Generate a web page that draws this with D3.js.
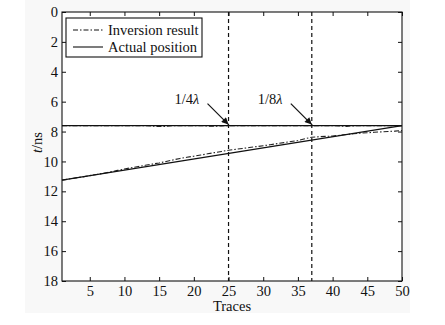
<!DOCTYPE html>
<html>
<head>
<meta charset="utf-8">
<script src="https://cdn.jsdelivr.net/npm/d3@7/dist/d3.min.js"></script>
<style>
  html, body { margin: 0; padding: 0; background: #fff; }
  svg text { font-family: "Liberation Serif", "Times New Roman", serif; fill: #111; }
</style>
</head>
<body>
<svg id="chart" width="445" height="325"></svg>
<script>
// Trace axis and time axis tick values
const xTicks = [5, 10, 15, 20, 25, 30, 35, 40, 45, 50];
const yTicks = [0, 2, 4, 6, 8, 10, 12, 14, 16, 18];

// Actual interface positions (two layers)
const actualFlatTraces = [1, 50];
const actualFlatT = [7.6, 7.6];
const actualDipTraces = [1, 50];
const actualDipT = [11.25, 7.6];

// Inverted positions for every trace
const traces = d3.range(1, 51);
const inversionFlatT = [
  7.6, 7.6, 7.6, 7.6, 7.6, 7.6, 7.6, 7.6, 7.6, 7.6,
  7.6, 7.6, 7.6, 7.64, 7.66, 7.65, 7.6, 7.6, 7.6, 7.6,
  7.6, 7.63, 7.65, 7.62, 7.6, 7.6, 7.6, 7.6, 7.6, 7.6,
  7.6, 7.6, 7.6, 7.6, 7.6, 7.6, 7.6, 7.6, 7.6, 7.6,
  7.63, 7.65, 7.62, 7.6, 7.6, 7.6, 7.6, 7.6, 7.6, 7.6
];
const inversionDipT = [
  11.25, 11.18, 11.1, 11.03, 10.95, 10.87, 10.79, 10.7, 10.6, 10.5,
  10.42, 10.34, 10.26, 10.18, 10.1, 10.0, 9.9, 9.8, 9.72, 9.65,
  9.57, 9.49, 9.41, 9.33, 9.25, 9.19, 9.13, 9.07, 9.01, 8.95,
  8.88, 8.81, 8.74, 8.67, 8.6, 8.48, 8.38, 8.35, 8.32, 8.3,
  8.25, 8.2, 8.15, 8.11, 8.08, 8.05, 8.02, 8.0, 7.97, 7.93
];

// Marked traces with their wavelength labels
const markTraces = [25, 37];
const markLabels = ["1/4", "1/8"];

const legendLabels = ["Inversion result", "Actual position"];

const svg = d3.select("#chart");
const m = { left: 62, right: 43, top: 12, bottom: 44 };
const W = 445, H = 325;
const pw = W - m.left - m.right, ph = H - m.top - m.bottom;

const x = d3.scaleLinear().domain([1, 50]).range([m.left, m.left + pw]);
const y = d3.scaleLinear().domain([0, 18]).range([m.top, m.top + ph]);

// Figure background
svg.append("rect").attr("x", 25).attr("y", 0).attr("width", 385).attr("height", 313)
  .attr("fill", "#f8f8f8");
svg.append("rect").attr("x", m.left).attr("y", m.top).attr("width", pw).attr("height", ph)
  .attr("fill", "#fff");

const g = svg.append("g");

// Axes with inward ticks on all four sides
const tickLen = 4;
const fontSize = 14.5;
g.append("g").attr("transform", `translate(0,${m.top + ph})`)
  .call(d3.axisBottom(x).tickValues(xTicks).tickSizeInner(-tickLen).tickSizeOuter(0).tickPadding(5))
  .call(a => a.selectAll("text").style("font-size", fontSize + "px"));
g.append("g").attr("transform", `translate(0,${m.top})`)
  .call(d3.axisTop(x).tickValues(xTicks).tickSizeInner(-tickLen).tickSizeOuter(0).tickFormat(""));
g.append("g").attr("transform", `translate(${m.left},0)`)
  .call(d3.axisLeft(y).tickValues(yTicks).tickSizeInner(-tickLen).tickSizeOuter(0).tickPadding(4))
  .call(a => a.selectAll("text").style("font-size", fontSize + "px"));
g.append("g").attr("transform", `translate(${m.left + pw},0)`)
  .call(d3.axisRight(y).tickValues(yTicks).tickSizeInner(-tickLen).tickSizeOuter(0).tickFormat(""));
g.selectAll(".domain").remove();
g.selectAll(".tick line").attr("stroke", "#111");

// Plot frame
svg.append("rect").attr("x", m.left).attr("y", m.top).attr("width", pw).attr("height", ph)
  .attr("fill", "none").attr("stroke", "#111").attr("stroke-width", 1.1);

// Vertical dashed markers
svg.selectAll(".mark").data(markTraces).join("line")
  .attr("x1", d => x(d)).attr("x2", d => x(d))
  .attr("y1", m.top).attr("y2", m.top + ph)
  .attr("stroke", "#111").attr("stroke-width", 1.2).attr("stroke-dasharray", "4,3");

const line = d3.line().x(d => x(d[0])).y(d => y(d[1]));

// Inversion result (dash-dot)
[inversionFlatT, inversionDipT].forEach(vals => {
  svg.append("path").datum(traces.map((t, i) => [t, vals[i]]))
    .attr("d", line).attr("fill", "none").attr("stroke", "#222")
    .attr("stroke-width", 1.1).attr("stroke-dasharray", "5,2,1.5,2");
});

// Actual position (solid)
[[actualFlatTraces, actualFlatT], [actualDipTraces, actualDipT]].forEach(([tr, vals]) => {
  svg.append("path").datum(tr.map((t, i) => [t, vals[i]]))
    .attr("d", line).attr("fill", "none").attr("stroke", "#111").attr("stroke-width", 1.3);
});

// Arrows with labels
svg.append("defs").append("marker").attr("id", "ah")
  .attr("viewBox", "0 0 10 10").attr("refX", 10).attr("refY", 5)
  .attr("markerWidth", 9).attr("markerHeight", 7).attr("orient", "auto")
  .attr("markerUnits", "userSpaceOnUse")
  .append("path").attr("d", "M0,0 L10,5 L0,10 Z").attr("fill", "#111");

markTraces.forEach((tr, i) => {
  const tx = x(tr), ty = y(7.6) - 1;
  svg.append("line").attr("x1", tx - 21).attr("y1", ty - 21).attr("x2", tx).attr("y2", ty)
    .attr("stroke", "#111").attr("stroke-width", 1.2).attr("marker-end", "url(#ah)");
  const t = svg.append("text").attr("x", tx - 54).attr("y", ty - 21)
    .style("font-size", fontSize + "px");
  t.append("tspan").text(markLabels[i]);
  t.append("tspan").style("font-style", "italic").text("λ");
});

// Legend
const lg = svg.append("g");
lg.append("rect").attr("x", 66).attr("y", 18).attr("width", 136).attr("height", 39)
  .attr("fill", "#fff").attr("stroke", "#111").attr("stroke-width", 1.1);
const styles = ["5,2,1.5,2", null];
legendLabels.forEach((lab, i) => {
  const yy = 30 + i * 17;
  lg.append("line").attr("x1", 73).attr("x2", 103).attr("y1", yy).attr("y2", yy)
    .attr("stroke", "#111").attr("stroke-width", 1.1)
    .attr("stroke-dasharray", styles[i]);
  lg.append("text").attr("x", 108).attr("y", yy + 5).style("font-size", fontSize + "px").text(lab);
});

// Axis titles
svg.append("text").attr("x", m.left + pw / 2).attr("y", 311).attr("text-anchor", "middle")
  .style("font-size", fontSize + "px").text("Traces");
const yl = svg.append("text")
  .attr("transform", `translate(42,${m.top + ph / 2 - 4}) rotate(-90)`)
  .attr("text-anchor", "middle").style("font-size", fontSize + "px");
yl.append("tspan").style("font-style", "italic").text("t");
yl.append("tspan").text("/ns");
</script>
</body>
</html>
